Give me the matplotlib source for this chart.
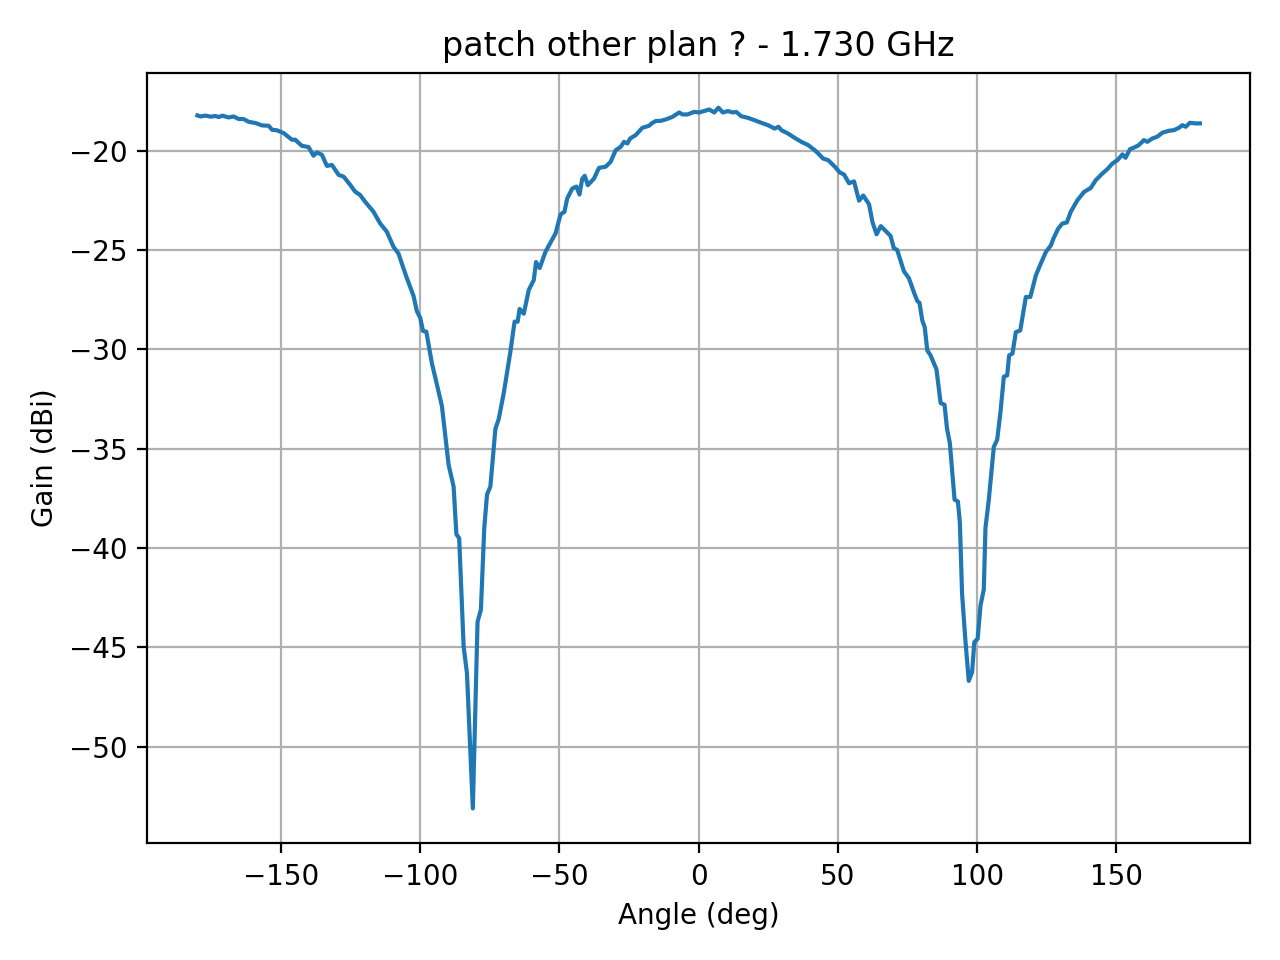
import numpy as np
import matplotlib
matplotlib.use('Agg')
import matplotlib.pyplot as plt

angle = [-180, -178.9, -177.1, -175.3, -173.5, -172.3, -171.1, -168.8, -167.0, -165.2,
         -163.4, -161.6, -159.2, -156.8, -154.4, -153.2, -151.4, -149.0, -146.1, -144.9,
         -142.5, -140.1, -138.3, -137.1, -135.3, -133.5, -131.7, -129.3, -127.5, -125.1,
         -123.4, -121.6, -119.8, -116.8, -114.4, -112.0, -109.6, -107.8, -106.6, -104.8,
         -102.4, -101.2, -100.0, -99.0, -97.8, -95.8, -94.6, -92.2, -89.8, -88.0,
         -87.0, -86.0, -84.4, -83.2, -81.1, -79.4, -78.2, -77.0, -76.0, -74.8,
         -73.0, -71.8, -70.0, -67.6, -66.1, -65.0, -64.3, -62.8, -61.0, -59.2,
         -58.4, -57.1, -55.0, -51.4, -49.6, -48.2, -47.2, -45.4, -43.9, -42.8,
         -41.8, -40.9, -39.8, -37.6, -35.8, -33.4, -31.6, -29.8, -28.0, -26.8,
         -25.6, -24.6, -22.6, -20.2, -17.8, -16.9, -15.4, -13.6, -11.8, -9.4,
         -7.0, -5.8, -4.0, -1.6, 0.2, 3.8, 5.6, 7.1, 8.7, 10.5,
         12.3, 13.5, 15.3, 17.7, 20.1, 22.5, 24.9, 27.3, 28.7, 29.7,
         32.1, 34.5, 36.9, 39.3, 41.7, 42.9, 44.7, 46.5, 48.9, 50.7,
         52.2, 54.0, 55.8, 57.6, 59.1, 61.2, 62.4, 63.9, 65.4, 67.7,
         68.9, 70.1, 71.3, 73.7, 75.5, 77.3, 78.5, 79.3, 80.3, 81.2,
         82.1, 83.3, 85.4, 86.9, 88.3, 89.2, 90.2, 91.9, 93.1, 93.8,
         94.6, 95.8, 97.0, 98.2, 99.0, 100.2, 101.2, 102.4, 103.0, 104.2,
         106.0, 107.2, 108.4, 109.6, 110.8, 111.5, 112.7, 113.9, 115.5, 117.5,
         119.1, 121.1, 122.6, 124.7, 126.5, 127.4, 129.1, 130.6, 132.2, 133.6,
         136.0, 138.4, 140.8, 142.6, 145.0, 146.8, 148.6, 150.4, 152.2, 153.3,
         154.9, 156.9, 158.1, 159.9, 161.1, 162.9, 164.7, 166.5, 168.9, 170.7,
         172.5, 173.7, 174.9, 176.4, 178.4, 180]
gain = [-18.22, -18.27, -18.23, -18.28, -18.25, -18.30, -18.23, -18.32, -18.27, -18.40,
        -18.40, -18.54, -18.60, -18.72, -18.74, -18.94, -18.97, -19.11, -19.44, -19.44,
        -19.75, -19.81, -20.25, -20.08, -20.20, -20.76, -20.71, -21.21, -21.30, -21.72,
        -22.05, -22.22, -22.56, -23.06, -23.65, -24.07, -24.83, -25.17, -25.67, -26.40,
        -27.30, -28.07, -28.40, -29.07, -29.10, -30.70, -31.40, -32.85, -35.80, -36.90,
        -39.30, -39.50, -44.95, -46.30, -53.10, -43.70, -43.10, -39.00, -37.30, -36.90,
        -34.00, -33.50, -32.20, -30.10, -28.60, -28.60, -27.96, -28.20, -27.00, -26.50,
        -25.60, -25.90, -25.08, -24.16, -23.20, -23.07, -22.40, -21.90, -21.80, -22.20,
        -21.40, -21.26, -21.73, -21.40, -20.86, -20.80, -20.55, -19.97, -19.80, -19.55,
        -19.63, -19.38, -19.21, -18.84, -18.74, -18.62, -18.50, -18.49, -18.42, -18.29,
        -18.07, -18.17, -18.17, -18.04, -18.07, -17.92, -18.07, -17.83, -18.07, -18.00,
        -18.07, -18.04, -18.26, -18.34, -18.46, -18.59, -18.71, -18.88, -18.79, -18.96,
        -19.13, -19.35, -19.55, -19.71, -19.97, -20.13, -20.39, -20.47, -20.80, -21.09,
        -21.19, -21.63, -21.54, -22.51, -22.25, -22.69, -23.58, -24.20, -23.79, -24.11,
        -24.28, -24.90, -24.99, -26.06, -26.41, -27.12, -27.56, -27.65, -28.53, -28.89,
        -30.04, -30.30, -31.00, -32.70, -32.78, -34.00, -34.70, -37.56, -37.65, -38.70,
        -42.30, -44.65, -46.68, -46.24, -44.73, -44.56, -42.90, -42.08, -38.98, -37.56,
        -34.90, -34.55, -33.14, -31.37, -31.30, -30.30, -30.20, -29.13, -29.04, -27.36,
        -27.36, -26.27, -25.76, -25.09, -24.76, -24.42, -23.92, -23.66, -23.61, -23.08,
        -22.49, -22.07, -21.87, -21.48, -21.14, -20.92, -20.64, -20.47, -20.18, -20.35,
        -19.92, -19.80, -19.71, -19.46, -19.55, -19.38, -19.29, -19.09, -18.99, -18.96,
        -18.84, -18.71, -18.79, -18.59, -18.62, -18.62]

plt.figure(figsize=(6.4, 4.8), dpi=200)
plt.plot(angle, gain)
plt.title('patch other plan ? - 1.730 GHz')
plt.xlabel('Angle (deg)')
plt.ylabel('Gain (dBi)')
plt.grid()
plt.tight_layout()
plt.savefig('out.png')
